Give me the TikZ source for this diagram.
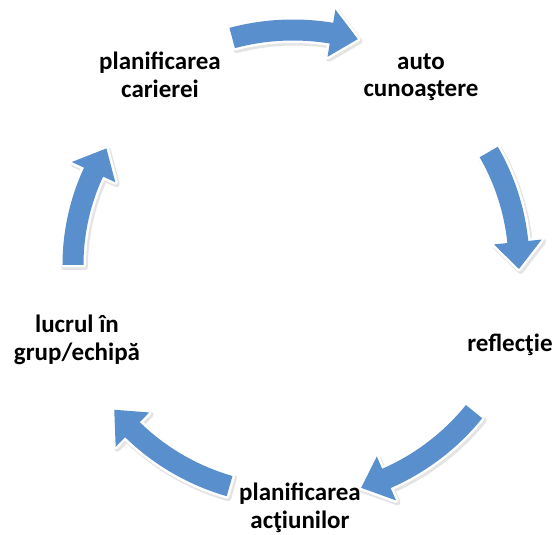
\documentclass[tikz,border=0pt]{standalone}
\usepackage{fontspec}
\setmainfont{Carlito}
\definecolor{arrowblue}{HTML}{5A8FCD}
\newcommand\cycarrow[4]{%
  \pgfmathsetmacro\aro{#1+10.5}%
  \pgfmathsetmacro\ari{#1-10.5}%
  \pgfmathsetmacro\ahro{#1+24}%
  \pgfmathsetmacro\ahri{#1-24}%
  \pgfmathsetmacro\ahb{#3+(27/#1)*180/pi}%
  \path[#4] (#2:\aro pt) arc[start angle=#2, end angle=\ahb, radius=\aro pt]
    -- (\ahb:\ahro pt) -- (#3:#1pt) -- (\ahb:\ahri pt) -- (\ahb:\ari pt)
    arc[start angle=\ahb, end angle=#2, radius=\ari pt] -- cycle;
}
\tikzset{
  arrowshadow/.style={fill=black!30, draw=black!30, line width=6pt, line join=round, opacity=0.35, xshift=1.5pt, yshift=-2pt},
  arrowbody/.style={preaction={draw=white, line width=5pt, line join=round}, fill=arrowblue},
  lbl/.style={font=\fontsize{25}{27.5}\selectfont\bfseries, align=center, text=black, inner sep=0pt}
}
\begin{document}
\begin{tikzpicture}[x=1pt,y=1pt]
  \useasboundingbox[fill=white] (-293,-270) rectangle (265,265);
  % shadows
  \cycarrow{235}{105}{74}{arrowshadow}
  \cycarrow{226}{30}{-1}{arrowshadow}
  \cycarrow{233}{-39}{-73}{arrowshadow}
  \cycarrow{230}{-106}{-141}{arrowshadow}
  \cycarrow{220}{180}{148}{arrowshadow}
  % arrows
  \cycarrow{235}{105}{74}{arrowbody}
  \cycarrow{226}{30}{-1}{arrowbody}
  \cycarrow{233}{-39}{-73}{arrowbody}
  \cycarrow{230}{-106}{-141}{arrowbody}
  \cycarrow{220}{180}{148}{arrowbody}
  % labels (pixel (px,py) -> (px-293, 265-py))
  \node[lbl] (carierei) at (-133,190) {planificarea\\carierei};
  \node[lbl] (auto) at (128,188) {auto\\cunoaştere};
  \node[lbl] (reflectie) at (217,-80) {reflecţie};
  \node[lbl] (actiuni) at (7,-243) {planificarea\\acţiunilor};
  \node[lbl] (grup) at (-216,-75) {lucrul în\\grup/echipă};
\end{tikzpicture}
\end{document}
